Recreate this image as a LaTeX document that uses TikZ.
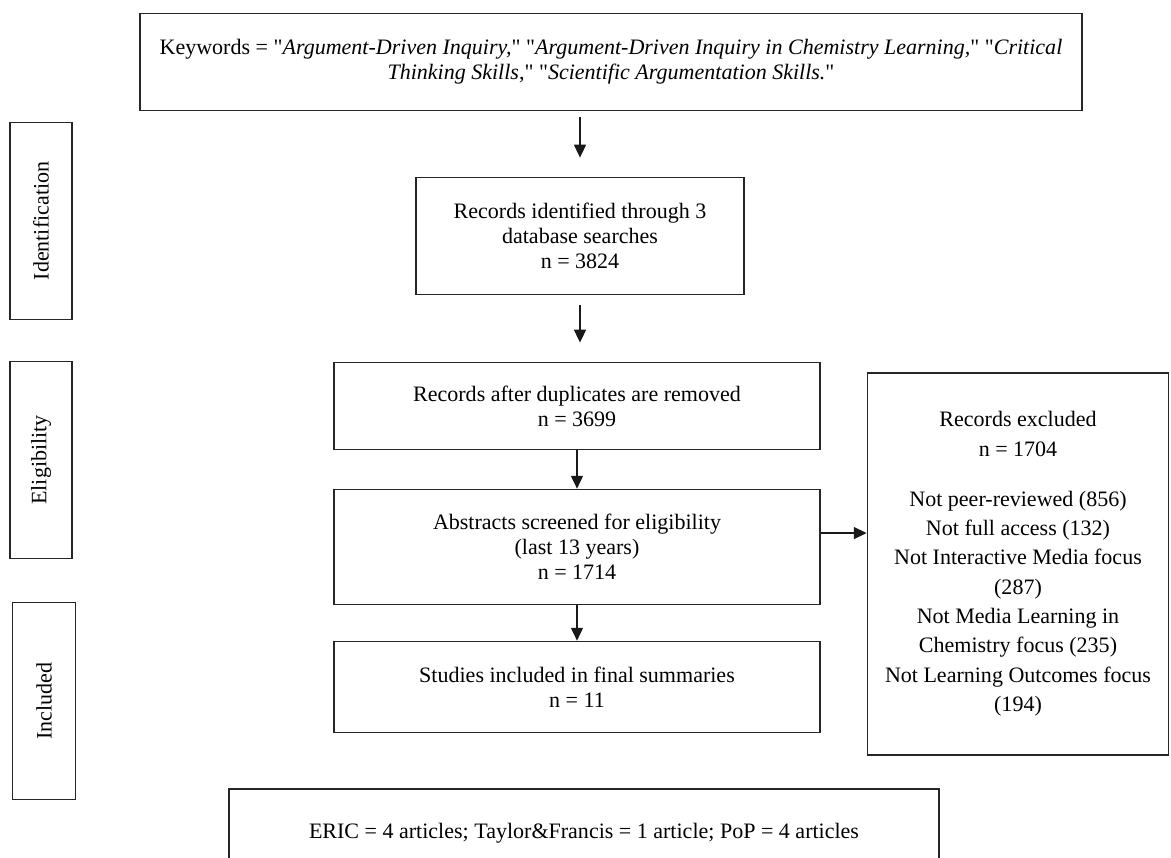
\documentclass[tikz,border=0pt]{standalone}
\usepackage{fontspec}
\setmainfont{Liberation Serif}
\usetikzlibrary{arrows.meta,positioning}

\newcommand{\qt}{\textquotedbl}

\begin{document}
\begin{tikzpicture}[x=0.545pt,y=-0.545pt,
    box/.style={draw=black!85, line width=0.9pt, align=center, inner sep=0pt,
                font=\fontsize{12}{13.6}\selectfont},
    boxsize/.style 2 args={minimum width=#1*0.545pt, minimum height=#2*0.545pt},
    stage/.style={box, rotate=90},
    arr/.style={-{Triangle[length=7pt,width=6.5pt]}, line width=0.8pt, black!90}]
    \useasboundingbox (0,0) rectangle (1171,858);

    % flow boxes
    \node (Key) at (611,62) [box, boxsize={942}{97}]
        {Keywords = \qt\textit{Argument-Driven Inquiry,}\qt{} \qt\textit{Argument-Driven Inquiry in Chemistry Learning,}\qt{} \qt\textit{Critical}\\
         \textit{Thinking Skills},\qt{} \qt\textit{Scientific Argumentation Skills.}\qt};
    \node (Iden) at (580,236) [box, boxsize={328}{117}]
        {Records identified through 3\\ database searches\\ n = 3824};
    \node (Dup) at (577,406) [box, boxsize={486}{87}]
        {Records after duplicates are removed\\ n = 3699};
    \node (Abs) at (577,547) [box, boxsize={486}{115}]
        {Abstracts screened for eligibility\\ (last 13 years)\\ n = 1714};
    \node (Stud) at (577,687) [box, boxsize={486}{91}]
        {Studies included in final summaries\\ n = 11};
    \node (Excl) at (1018,564) [box, boxsize={301}{382}, font=\fontsize{12}{16}\selectfont]
        {Records excluded\\ n = 1704\\[11.2pt]
         Not peer-reviewed (856)\\ Not full access (132)\\ Not Interactive Media focus\\ (287)\\
         Not Media Learning in\\ Chemistry focus (235)\\ Not Learning Outcomes focus\\ (194)};
    \node (Src) at (584,833) [box, boxsize={710}{88}]
        {ERIC = 4 articles; Taylor\&Francis = 1 article; PoP = 4 articles};

    % stage labels
    \node (IdLab) at (41,221) [stage, boxsize={197}{62}] {Identification};
    \node (ElLab) at (41,460) [stage, boxsize={197}{62}] {Eligibility};
    \node (InLab) at (44,701) [stage, boxsize={197}{63}] {Included};

    \coordinate (AbsOut) at ([yshift=7.6pt]Abs.east);

    \draw[arr, shorten <=3.3pt, shorten >=10.4pt] (Key.south -| Iden.north) to (Iden.north);
    \draw[arr, shorten <=5.5pt, shorten >=10.4pt] (Iden.south) to (Iden.south |- Dup.north);
    \draw[arr] (Dup.south) to (Abs.north);
    \draw[arr] (Abs.south) to (Stud.north);
    \draw[arr] (AbsOut) to (AbsOut -| Excl.west);
\end{tikzpicture}
\end{document}
